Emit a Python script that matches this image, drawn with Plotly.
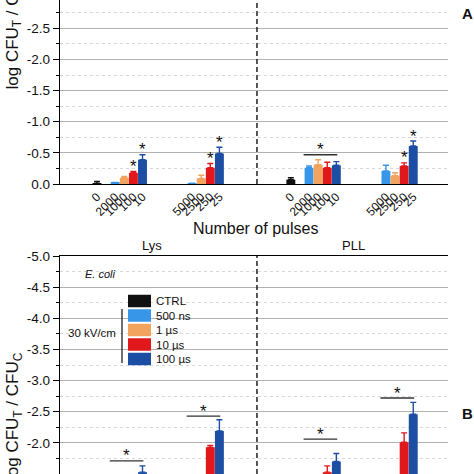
import plotly.graph_objects as go

W = H = 474
FONT = "Arial, 'Liberation Sans', sans-serif"

# ---------------- data ----------------
series_names = ["CTRL", "500 ns", "1 µs", "10 µs", "100 µs"]
series_colors = ["#111111", "#3896e8", "#f2a35e", "#e0181c", "#1c4ea4"]
sections = ["Lys", "PLL"]
ctrl_label = "0"
pulses_group1 = ["2000", "1000", "100", "10"]
pulses_group2 = ["5000", "2500", "250", "25"]

# Panel A: log CFU_T / CFU_C  (series order 500 ns, 1 us, 10 us, 100 us)
a_ctrl = [-0.01, -0.07]
a_ctrl_err = [0.03, 0.03]
a_lys_g1 = [-0.02, -0.10, -0.18, -0.39]
a_lys_g1_err = [0.005, 0.02, 0.02, 0.08]
a_lys_g2 = [-0.01, -0.09, -0.26, -0.49]
a_lys_g2_err = [0.003, 0.05, 0.07, 0.10]
a_pll_g1 = [-0.26, -0.31, -0.26, -0.30]
a_pll_g1_err = [0.03, 0.08, 0.09, 0.06]
a_pll_g2 = [-0.21, -0.135, -0.29, -0.61]
a_pll_g2_err = [0.09, 0.045, 0.05, 0.08]

# Panel B: only the upper part of the panel is visible in the picture
b_ctrl = [None, None]
b_ctrl_err = [0, 0]
b_lys_g1 = [None, None, None, -1.53]
b_lys_g1_err = [0, 0, 0, 0.10]
b_lys_g2 = [None, None, -1.93, -2.19]
b_lys_g2_err = [0, 0, 0.03, 0.18]
b_pll_g1 = [None, None, -1.53, -1.70]
b_pll_g1_err = [0, 0, 0.10, 0.13]
b_pll_g2 = [None, None, -2.01, -2.46]
b_pll_g2_err = [0, 0, 0.15, 0.19]

# significance marks: (section, group, series index)
a_bar_stars = [("Lys", 0, 3), ("Lys", 0, 4), ("Lys", 1, 3), ("Lys", 1, 4),
               ("PLL", 1, 3), ("PLL", 1, 4)]
# (section, group, bracket level)
a_brackets = [("PLL", 0, -0.47)]
b_brackets = [("Lys", 0, -1.71), ("Lys", 1, -2.43), ("PLL", 0, -2.06), ("PLL", 1, -2.72)]

a_yticks = [0.0, -0.5, -1.0, -1.5, -2.0, -2.5, -3.0]
b_yticks = [-5.0, -4.5, -4.0, -3.5, -3.0, -2.5, -2.0, -1.5]

# ---------------- layout constants ----------------
SECTION_SHIFT = 21.3
GROUP_START = [2.0, 10.45]
DIVIDER_X = 17.58
X_RANGE = [-4.066, 38.57]
A_RANGE = [0, -2.955]
B_RANGE = [-1.50, -5.0]
PX_L, PX_R = 60, 448
A_TOP, A_BOT = 0, 184
B_TOP, B_BOT = 256, 474


def px(v):
    return v / W


def py(v):
    return 1 - v / H


def ctrl_x(si):
    return si * SECTION_SHIFT


def bar_x(si, gi, s):
    return si * SECTION_SHIFT + GROUP_START[gi] + (s - 1)


panel_data = {
    "A": dict(ctrl=(a_ctrl, a_ctrl_err),
              groups={"Lys": [(a_lys_g1, a_lys_g1_err), (a_lys_g2, a_lys_g2_err)],
                      "PLL": [(a_pll_g1, a_pll_g1_err), (a_pll_g2, a_pll_g2_err)]}),
    "B": dict(ctrl=(b_ctrl, b_ctrl_err),
              groups={"Lys": [(b_lys_g1, b_lys_g1_err), (b_lys_g2, b_lys_g2_err)],
                      "PLL": [(b_pll_g1, b_pll_g1_err), (b_pll_g2, b_pll_g2_err)]}),
}
axes_of = {"A": ("x", "y"), "B": ("x2", "y2")}

fig = go.Figure()
for pname, pdata in panel_data.items():
    xa, ya = axes_of[pname]
    for s, (name, col) in enumerate(zip(series_names, series_colors)):
        xs, ys, es = [], [], []
        for si, sec in enumerate(sections):
            if s == 0:
                xs.append(ctrl_x(si))
                ys.append(pdata["ctrl"][0][si])
                es.append(pdata["ctrl"][1][si])
            else:
                for gi, (vals, errs) in enumerate(pdata["groups"][sec]):
                    xs.append(bar_x(si, gi, s))
                    ys.append(vals[s - 1])
                    es.append(errs[s - 1])
        fig.add_trace(go.Bar(
            x=xs, y=ys, width=0.98, name=name, marker_color=col,
            marker_line_width=0, showlegend=False, xaxis=xa, yaxis=ya,
            error_y=dict(type="data", symmetric=False, array=[0] * len(es),
                         arrayminus=es, color=col, thickness=1.4, width=3),
        ))

# x tick labels (one per bar)
tickvals, ticktext = [], []
for si, sec in enumerate(sections):
    tickvals.append(ctrl_x(si))
    ticktext.append(ctrl_label)
    for gi, labels in enumerate([pulses_group1, pulses_group2]):
        for s, lab in enumerate(labels, start=1):
            tickvals.append(bar_x(si, gi, s))
            ticktext.append(lab)


def minor_vals(ticks):
    out = []
    for a, b in zip(ticks[:-1], ticks[1:]):
        out.append((a + b) / 2)
    return out


axis_font = dict(family=FONT, size=13.5, color="#111")
common_x = dict(domain=[px(PX_L), px(PX_R)], range=X_RANGE, showgrid=False,
                zeroline=False, showline=True, linecolor="black", linewidth=1.4,
                automargin=False)


def yaxis_left(ticks, rng, dom):
    return dict(domain=dom, range=rng, tickmode="array", tickvals=ticks,
                ticktext=[f"{v:.1f}" for v in ticks], tickfont=axis_font,
                ticks="outside", ticklen=6, tickwidth=1.2, tickcolor="black",
                showline=True, linecolor="black", linewidth=1.4, zeroline=False,
                showgrid=True, gridcolor="#b2b2b2", gridwidth=1, automargin=False,
                minor=dict(tickmode="array", tickvals=minor_vals(ticks),
                           ticks="outside", ticklen=3, tickwidth=1, tickcolor="black",
                           showgrid=True, gridcolor="#d8d8d8", griddash="dot",
                           gridwidth=1))


def yaxis_right(ticks, rng, over, anchor):
    return dict(overlaying=over, anchor=anchor, side="right", range=rng,
                tickmode="array", tickvals=ticks, showticklabels=False,
                ticks="inside", ticklen=6, tickwidth=1.2, tickcolor="black",
                showline=True, linecolor="black", linewidth=1.4, zeroline=False,
                showgrid=False, automargin=False,
                minor=dict(tickmode="array", tickvals=minor_vals(ticks),
                           ticks="inside", ticklen=3, tickwidth=1, tickcolor="black",
                           showgrid=False))


fig.update_layout(
    width=W, height=H, margin=dict(l=0, r=0, t=0, b=0, autoexpand=False),
    paper_bgcolor="white", plot_bgcolor="white", barmode="overlay",
    font=dict(family=FONT, color="#111"),
    xaxis=dict(**common_x, anchor="y", tickmode="array", tickvals=tickvals,
               ticktext=ticktext, tickangle=-45, ticks="",
               tickfont=dict(family=FONT, size=12, color="#111")),
    xaxis2=dict(**common_x, anchor="y2", side="top", ticks="", showticklabels=False),
    yaxis=yaxis_left(a_yticks, A_RANGE, [py(A_BOT), py(A_TOP)]),
    yaxis2=yaxis_left(b_yticks, B_RANGE, [py(B_BOT), py(B_TOP)]),
    yaxis3=yaxis_right(a_yticks, A_RANGE, "y", "x"),
    yaxis4=yaxis_right(b_yticks, B_RANGE, "y2", "x2"),
)

shapes, annos = [], []

# section dividers
for xref, yref in [("x", "y domain"), ("x2", "y2 domain")]:
    shapes.append(dict(type="line", xref=xref, yref=yref,
                       x0=DIVIDER_X, x1=DIVIDER_X, y0=0, y1=1,
                       line=dict(color="#222", width=1.5, dash="5px,3px")))

# stars above bars
star_font = dict(family=FONT, size=17, color="#111")
sec_index = {s: i for i, s in enumerate(sections)}
for sec, gi, s in a_bar_stars:
    vals, errs = panel_data["A"]["groups"][sec][gi]
    annos.append(dict(x=bar_x(sec_index[sec], gi, s), y=vals[s - 1] - errs[s - 1],
                      xref="x", yref="y", text="*", showarrow=False, font=star_font,
                      xanchor="center", yanchor="middle", yshift=5))

# brackets with stars
for pname, brs in [("A", a_brackets), ("B", b_brackets)]:
    xa, ya = axes_of[pname]
    for sec, gi, level in brs:
        x0 = bar_x(sec_index[sec], gi, 1) - 0.6
        x1 = bar_x(sec_index[sec], gi, 4) + 0.1
        shapes.append(dict(type="line", xref=xa, yref=ya, x0=x0, x1=x1, y0=level, y1=level,
                           line=dict(color="#333", width=1.3)))
        annos.append(dict(x=(x0 + x1) / 2, y=level, xref=xa, yref=ya, text="*",
                          showarrow=False, font=star_font, xanchor="center",
                          yanchor="middle", yshift=5))

# manual legend (inside panel B)
LEG_X0, LEG_X1, LEG_TXT = 128, 151, 154
LEG_ROW0, LEG_PITCH, LEG_H = 301, 14.5, 12.5
for i, (name, col) in enumerate(zip(series_names, series_colors)):
    yc = LEG_ROW0 + i * LEG_PITCH
    shapes.append(dict(type="rect", xref="paper", yref="paper",
                       x0=px(LEG_X0), x1=px(LEG_X1), y0=py(yc + LEG_H / 2), y1=py(yc - LEG_H / 2),
                       fillcolor=col, line=dict(width=0)))
    annos.append(dict(x=px(LEG_TXT), y=py(yc), xref="paper", yref="paper", text=name,
                      showarrow=False, xanchor="left", yanchor="middle",
                      font=dict(family=FONT, size=11.5, color="#111")))
shapes.append(dict(type="line", xref="paper", yref="paper", x0=px(122), x1=px(122),
                   y0=py(309), y1=py(363), line=dict(color="#333", width=1.4)))
annos.append(dict(x=px(118), y=py(333), xref="paper", yref="paper", text="30 kV/cm",
                  showarrow=False, xanchor="right", yanchor="middle",
                  font=dict(family=FONT, size=11.5, color="#111")))
annos.append(dict(x=px(100), y=py(274), xref="paper", yref="paper", text="<i>E. coli</i>",
                  showarrow=False, xanchor="center", yanchor="middle",
                  font=dict(family=FONT, size=11, color="#111")))

# titles and labels
ytitle = "log CFU<sub>T</sub> / CFU<sub>C</sub>"
for yc in [25.5, 416]:
    annos.append(dict(x=px(14), y=py(yc), xref="paper", yref="paper", text=ytitle,
                      textangle=-90, showarrow=False, xanchor="center", yanchor="middle",
                      font=dict(family=FONT, size=17, color="#111")))
annos.append(dict(x=px(256), y=py(228), xref="paper", yref="paper", text="Number of pulses",
                  showarrow=False, xanchor="center", yanchor="middle",
                  font=dict(family=FONT, size=16, color="#111")))
for sec, xc in zip(sections, [152, 353]):
    annos.append(dict(x=px(xc), y=py(245), xref="paper", yref="paper", text=sec,
                      showarrow=False, xanchor="center", yanchor="middle",
                      font=dict(family=FONT, size=13, color="#111")))
for lab, yc in [("A", 14), ("B", 413)]:
    annos.append(dict(x=px(467), y=py(yc), xref="paper", yref="paper", text=f"<b>{lab}</b>",
                      showarrow=False, xanchor="center", yanchor="middle",
                      font=dict(family=FONT, size=15, color="#111")))

fig.update_layout(shapes=shapes, annotations=annos)
fig.write_html("out.html", config={"displayModeBar": False},
               post_script="document.body.style.margin='0px';document.body.style.overflow='hidden';")
